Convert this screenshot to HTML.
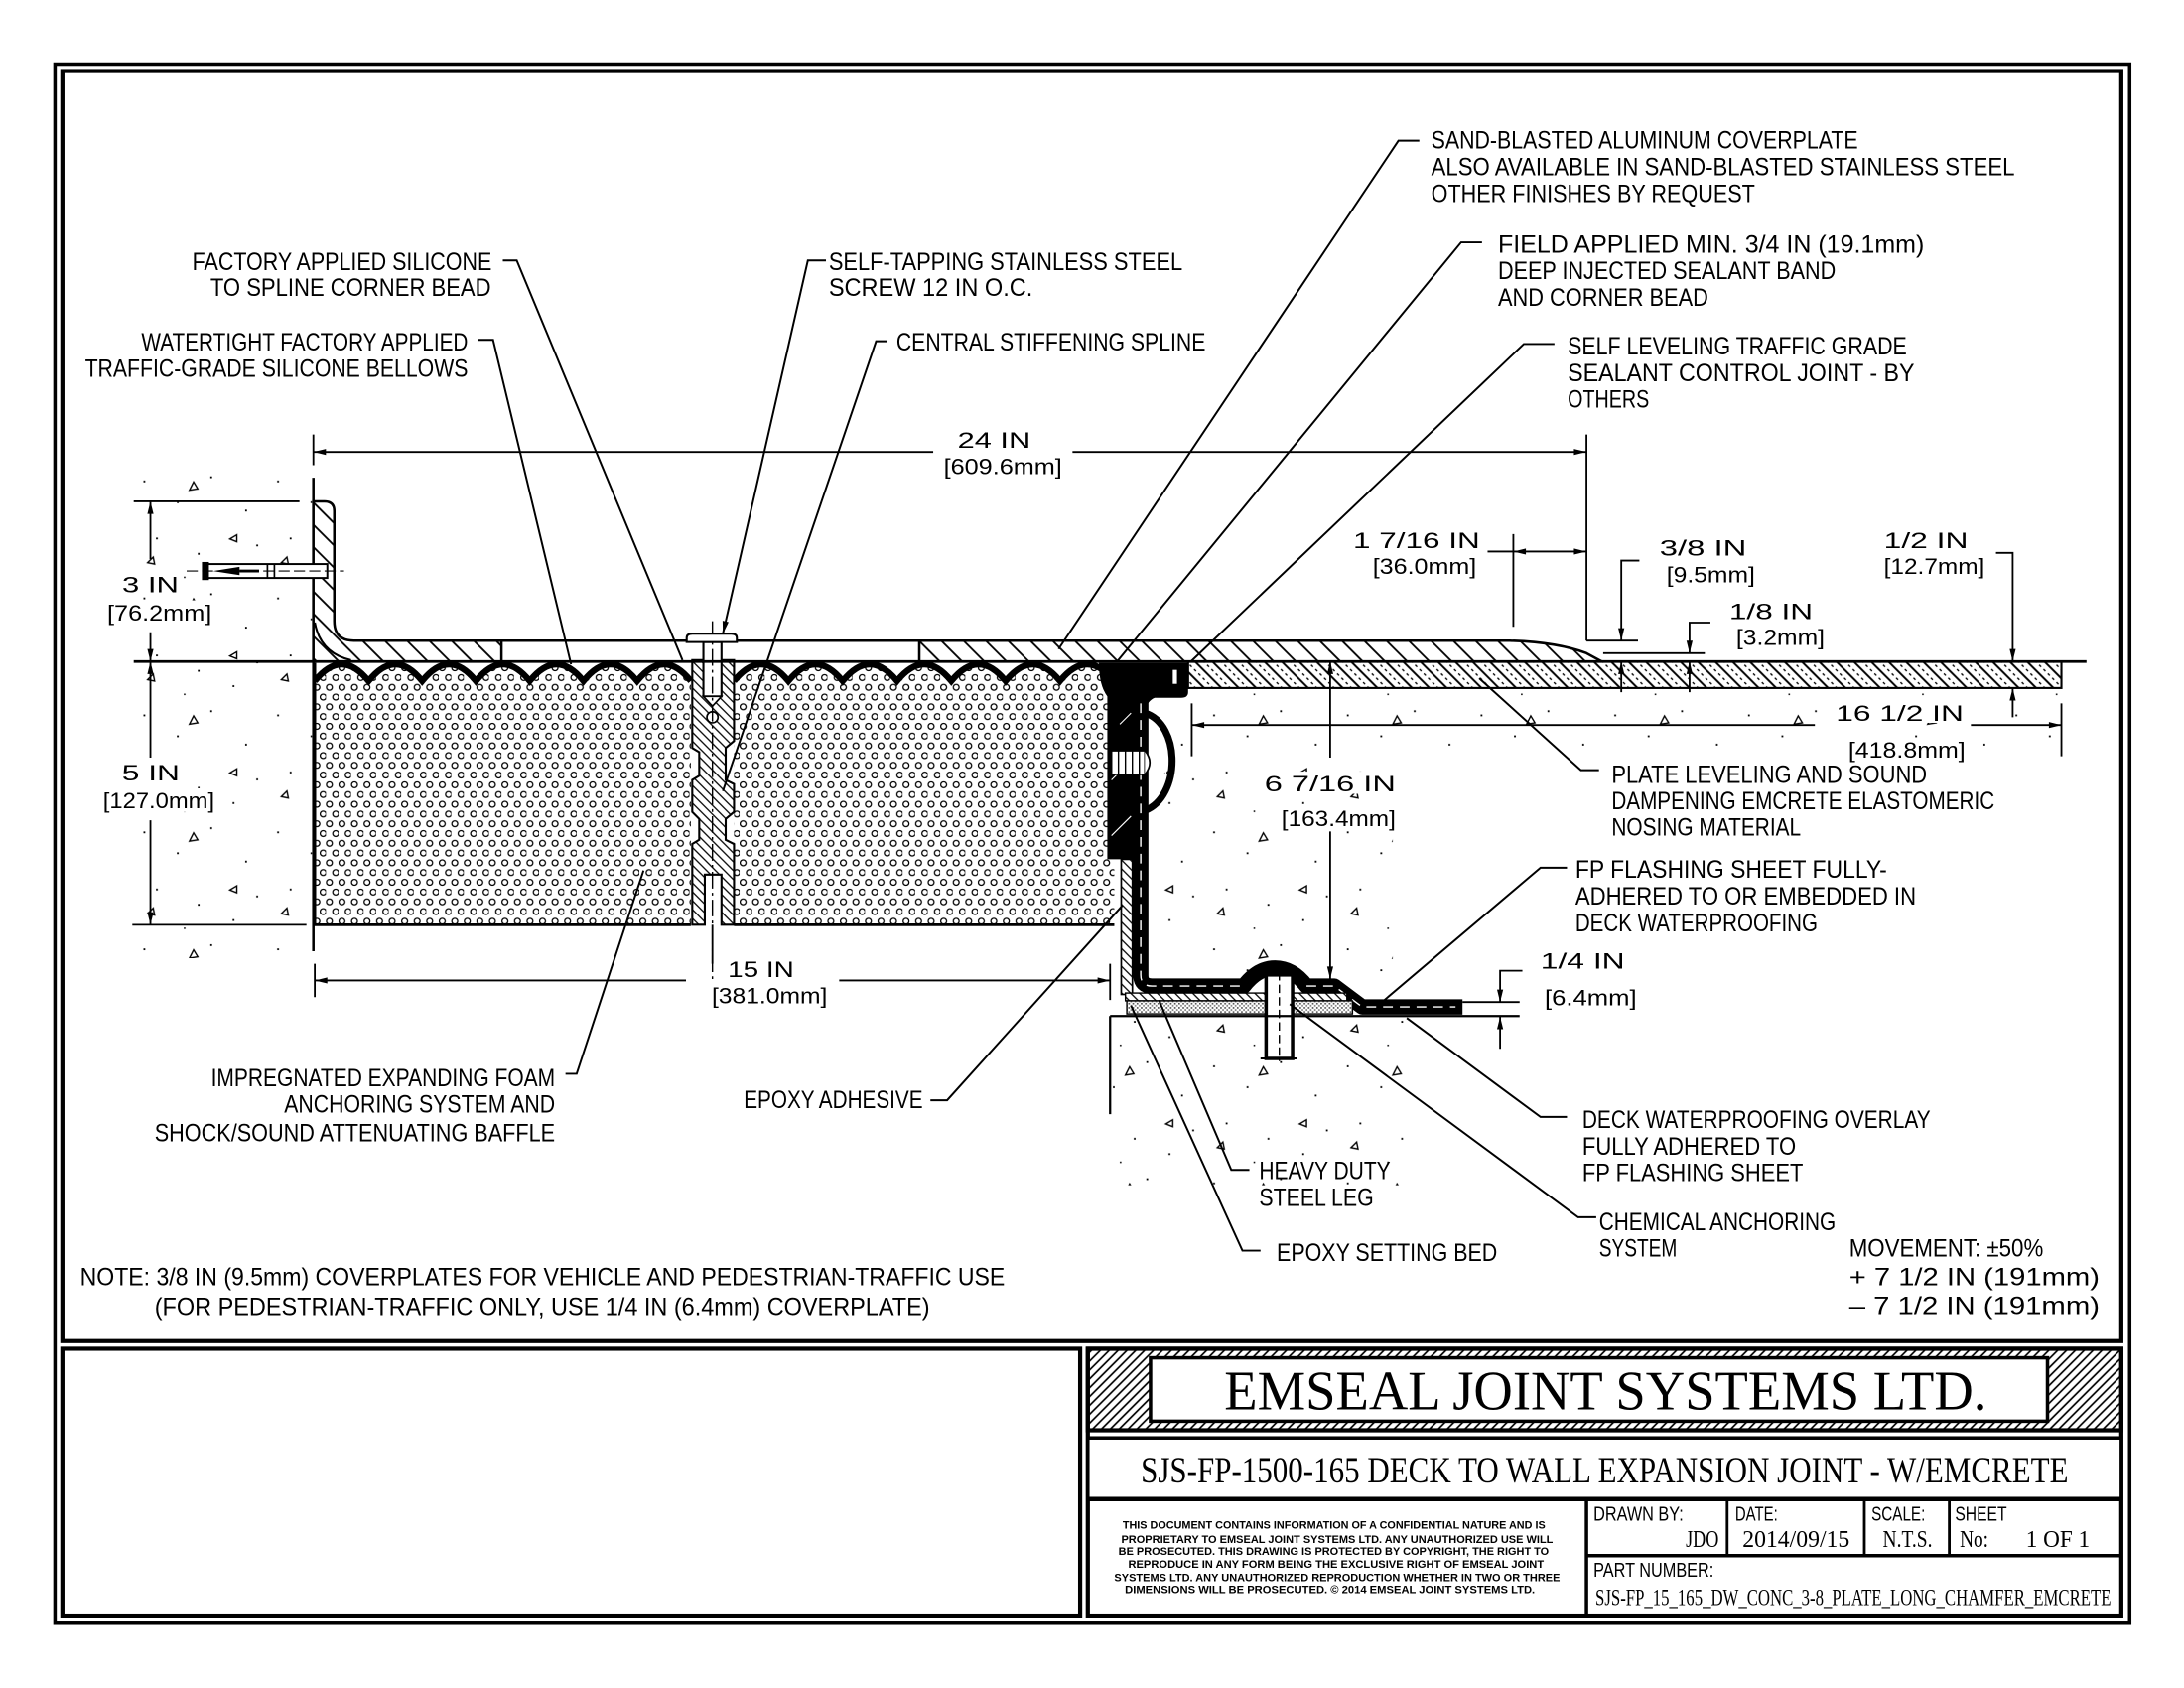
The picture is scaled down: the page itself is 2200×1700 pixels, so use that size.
<!DOCTYPE html>
<html><head><meta charset="utf-8">
<style>
html,body{margin:0;padding:0;background:#fff;}
svg{display:block;}
text{font-family:"Liberation Sans",sans-serif;fill:#000;}
.l{font-size:17.5px;}
.d{font-size:16px;}
.sf{font-family:"Liberation Serif",serif;}
.tb{font-size:14.5px;}
.dis{font-size:7.8px;font-weight:bold;}
</style></head><body>
<svg xmlns="http://www.w3.org/2000/svg" width="2200" height="1700" viewBox="0 0 1568 1212" preserveAspectRatio="none">
<defs>
<pattern id="h1" patternUnits="userSpaceOnUse" width="11.3" height="11.3" patternTransform="rotate(45)">
<line x1="0" y1="5.65" x2="11.3" y2="5.65" stroke="#000" stroke-width="1.3"/>
</pattern>
<pattern id="h2" patternUnits="userSpaceOnUse" width="4.5" height="4.5" patternTransform="rotate(45)">
<line x1="0" y1="2.25" x2="4.5" y2="2.25" stroke="#000" stroke-width="0.9"/>
</pattern>
<pattern id="hn" patternUnits="userSpaceOnUse" width="8.8" height="8.8" patternTransform="rotate(45)">
<line x1="0" y1="2" x2="8.8" y2="2" stroke="#000" stroke-width="1.4"/>
<line x1="0" y1="6.4" x2="8.8" y2="6.4" stroke="#000" stroke-width="1" stroke-dasharray="2 2.4"/>
</pattern>
<pattern id="ht" patternUnits="userSpaceOnUse" width="4.5" height="4.5" patternTransform="rotate(-45)">
<line x1="0" y1="2.25" x2="4.5" y2="2.25" stroke="#000" stroke-width="1.2"/>
</pattern>
<pattern id="foam" patternUnits="userSpaceOnUse" width="9" height="14">
<circle cx="2.5" cy="3.5" r="2.1" fill="none" stroke="#000" stroke-width="0.9"/>
<circle cx="7" cy="10.5" r="2.1" fill="none" stroke="#000" stroke-width="0.9"/>
</pattern>
<pattern id="ep" patternUnits="userSpaceOnUse" width="3" height="3">
<rect width="3" height="3" fill="#fff"/>
<rect x="0" y="0" width="1.2" height="1.2" fill="#555"/>
<rect x="1.5" y="1.5" width="1.2" height="1.2" fill="#777"/>
</pattern>
<pattern id="conc" patternUnits="userSpaceOnUse" width="96" height="84">
<g fill="#000">
<rect x="7" y="9" width="1.3" height="1.3"/><rect x="31" y="24" width="1.3" height="1.3"/>
<rect x="55" y="6" width="1.3" height="1.3"/><rect x="80" y="30" width="1.3" height="1.3"/>
<rect x="16" y="50" width="1.3" height="1.3"/><rect x="46" y="61" width="1.3" height="1.3"/>
<rect x="71" y="72" width="1.3" height="1.3"/><rect x="88" y="55" width="1.3" height="1.3"/>
<rect x="36" y="78" width="1.1" height="1.1"/>
</g>
<g fill="none" stroke="#000" stroke-width="1">
<path d="M40,16 l6,-1 l-3,-5 z"/>
<path d="M10,68 l4,-4 l1,5 z"/>
<path d="M74,48 l-5,3 l5,2 z"/>
</g>
</pattern>
</defs>

<!-- borders -->
<rect x="39.5" y="46" width="1489.5" height="1119.5" fill="none" stroke="#000" stroke-width="2.5"/>
<rect x="44.8" y="51" width="1478.2" height="912" fill="none" stroke="#000" stroke-width="3"/>
<rect x="44.8" y="968.5" width="730.7" height="191.5" fill="none" stroke="#000" stroke-width="3"/>
<rect x="781" y="968.5" width="742" height="191.5" fill="none" stroke="#000" stroke-width="3"/>

<!-- title block -->
<rect x="781" y="968.5" width="742" height="58.5" fill="url(#ht)" stroke="#000" stroke-width="3"/>
<rect x="826" y="975" width="644" height="45.5" fill="#fff" stroke="#000" stroke-width="2.5"/>
<text class="sf" x="879" y="1012" font-size="40" textLength="547.5" lengthAdjust="spacingAndGlyphs">EMSEAL JOINT SYSTEMS LTD.</text>
<rect x="781" y="1032.5" width="742" height="43.5" fill="#fff" stroke="#000" stroke-width="2.5"/>
<text class="sf" x="819" y="1064.4" font-size="26" textLength="666" lengthAdjust="spacingAndGlyphs">SJS-FP-1500-165 DECK TO WALL EXPANSION JOINT - W/EMCRETE</text>
<line x1="781" y1="1076.5" x2="1523" y2="1076.5" stroke="#000" stroke-width="3"/>
<line x1="1139" y1="1076" x2="1139" y2="1160" stroke="#000" stroke-width="2.5"/>
<line x1="1139" y1="1117" x2="1523" y2="1117" stroke="#000" stroke-width="2.5"/>
<line x1="1240" y1="1076" x2="1240" y2="1117" stroke="#000" stroke-width="2"/>
<line x1="1338.5" y1="1076" x2="1338.5" y2="1117" stroke="#000" stroke-width="2"/>
<line x1="1399.5" y1="1076" x2="1399.5" y2="1117" stroke="#000" stroke-width="2"/>

<text class="dis" x="806" y="1097.6" textLength="303.5" lengthAdjust="spacingAndGlyphs">THIS DOCUMENT CONTAINS INFORMATION OF A CONFIDENTIAL NATURE AND IS</text>
<text class="dis" x="805" y="1107.8" textLength="310" lengthAdjust="spacingAndGlyphs">PROPRIETARY TO EMSEAL JOINT SYSTEMS LTD. ANY UNAUTHORIZED USE WILL</text>
<text class="dis" x="803" y="1116.6" textLength="309" lengthAdjust="spacingAndGlyphs">BE PROSECUTED. THIS DRAWING IS PROTECTED BY COPYRIGHT, THE RIGHT TO</text>
<text class="dis" x="810" y="1125.6" textLength="298.4" lengthAdjust="spacingAndGlyphs">REPRODUCE IN ANY FORM BEING THE EXCLUSIVE RIGHT OF EMSEAL JOINT</text>
<text class="dis" x="800" y="1135.2" textLength="320" lengthAdjust="spacingAndGlyphs">SYSTEMS LTD. ANY UNAUTHORIZED REPRODUCTION WHETHER IN TWO OR THREE</text>
<text class="dis" x="807.6" y="1144" textLength="294.4" lengthAdjust="spacingAndGlyphs">DIMENSIONS WILL BE PROSECUTED. © 2014 EMSEAL JOINT SYSTEMS LTD.</text>

<text class="tb" x="1144" y="1091.7" textLength="64.6" lengthAdjust="spacingAndGlyphs">DRAWN BY:</text>
<text class="sf" x="1210.3" y="1110.7" font-size="17.5" textLength="23.7" lengthAdjust="spacingAndGlyphs">JDO</text>
<text class="tb" x="1245.8" y="1091.7" textLength="30.5" lengthAdjust="spacingAndGlyphs">DATE:</text>
<text class="sf" x="1251" y="1110.7" font-size="17.5" textLength="77" lengthAdjust="spacingAndGlyphs">2014/09/15</text>
<text class="tb" x="1343.6" y="1091.7" textLength="38.6" lengthAdjust="spacingAndGlyphs">SCALE:</text>
<text class="sf" x="1351.7" y="1110.7" font-size="17.5" textLength="35.6" lengthAdjust="spacingAndGlyphs">N.T.S.</text>
<text class="tb" x="1403.6" y="1091.7" textLength="37.2" lengthAdjust="spacingAndGlyphs">SHEET</text>
<text class="sf" x="1407" y="1110.7" font-size="17.5" textLength="20.6" lengthAdjust="spacingAndGlyphs">No:</text>
<text class="sf" x="1454.5" y="1110.7" font-size="17.5" textLength="45.9" lengthAdjust="spacingAndGlyphs">1 OF 1</text>
<text class="tb" x="1144" y="1132" textLength="86.4" lengthAdjust="spacingAndGlyphs">PART NUMBER:</text>
<text class="sf" x="1145.4" y="1152.3" font-size="16.5" textLength="370.2" lengthAdjust="spacingAndGlyphs">SJS-FP_15_165_DW_CONC_3-8_PLATE_LONG_CHAMFER_EMCRETE</text>

<!-- concrete -->
<rect x="97" y="336" width="127" height="352" fill="url(#conc)"/>
<rect x="826" y="495" width="654" height="52" fill="url(#conc)"/>
<rect x="826" y="547" width="174" height="153" fill="url(#conc)"/>
<rect x="799" y="731" width="212" height="120" fill="url(#conc)"/>

<!-- foam -->
<rect x="226" y="476" width="270" height="188" fill="#fff"/>
<rect x="226" y="476" width="270" height="188" fill="url(#foam)"/>
<rect x="527" y="476" width="273" height="188" fill="#fff"/>
<rect x="527" y="476" width="273" height="188" fill="url(#foam)"/>
<path d="M226,475 L226,489 Q245.3,465 264.6,489 Q283.9,465 303.1,489 Q322.4,465 341.7,489 Q361,465 380.3,489 Q399.6,465 418.9,489 Q438.1,465 457.4,489 Q476.7,465 496,489 L496,475 Z" fill="#fff"/>
<path d="M226,489 Q245.3,465 264.6,489 Q283.9,465 303.1,489 Q322.4,465 341.7,489 Q361,465 380.3,489 Q399.6,465 418.9,489 Q438.1,465 457.4,489 Q476.7,465 496,489" fill="none" stroke="#000" stroke-width="4.5"/>
<path d="M527,475 L527,489 Q546.5,465 566,489 Q585.5,465 605,489 Q624.5,465 644,489 Q663.5,465 683,489 Q702.5,465 722,489 Q741.5,465 761,489 Q780.5,465 800,489 L800,475 Z" fill="#fff"/>
<path d="M527,489 Q546.5,465 566,489 Q585.5,465 605,489 Q624.5,465 644,489 Q663.5,465 683,489 Q702.5,465 722,489 Q741.5,465 761,489 Q780.5,465 800,489" fill="none" stroke="#000" stroke-width="4.5"/>
<path d="M226,476 L226,664 L496,664 M527,664 L800,664" fill="none" stroke="#000" stroke-width="2"/>

<!-- spline -->
<polygon points="497,474 527,474 527,532 521,537 521,560 527,563 527,583 521,588 521,603 527,606 527,664 518,664 518,628 506,628 506,664 497,664 497,606 502,603 502,588 497,583 497,560 502,557 502,540 497,537" fill="#fff"/>
<polygon points="497,474 527,474 527,532 521,537 521,560 527,563 527,583 521,588 521,603 527,606 527,664 518,664 518,628 506,628 506,664 497,664 497,606 502,603 502,588 497,583 497,560 502,557 502,540 497,537" fill="url(#h2)" stroke="#000" stroke-width="1.5"/>
<!-- screw -->
<rect x="505" y="461" width="13" height="39" fill="#fff" stroke="#000" stroke-width="1.5"/>
<polygon points="505,500 511.5,507 518,500" fill="#fff" stroke="#000" stroke-width="1.2"/>
<circle cx="511.5" cy="515" r="4" fill="#fff" stroke="#000" stroke-width="1.2"/>
<line x1="511.5" y1="446" x2="511.5" y2="706" stroke="#000" stroke-width="1" stroke-dasharray="12 3 2 3"/>

<!-- left wall line -->
<line x1="225" y1="343" x2="225" y2="683" stroke="#000" stroke-width="1.8"/>
<!-- angle + plate left -->
<path d="M225,360 L233,360 Q240,360 240,367 L240,446 Q240,460 254,460 L360,460 L360,475 L225,475 Z" fill="#fff"/>
<path d="M225,360 L233,360 Q240,360 240,367 L240,446 Q240,460 254,460 L360,460 L360,475 L225,475 Z" fill="url(#h1)" stroke="#000" stroke-width="1.8"/>
<path d="M226,447 Q230,469 252,474" fill="none" stroke="#000" stroke-width="1.5"/>
<line x1="360" y1="460" x2="660" y2="460" stroke="#000" stroke-width="1.8"/>
<path d="M660,460 L1084,460 Q1118,461 1139,469 L1150,475 L660,475 Z" fill="#fff"/>
<path d="M660,460 L1084,460 Q1118,461 1139,469 L1150,475 L660,475 Z" fill="url(#h1)" stroke="#000" stroke-width="1.8"/>
<!-- screw head over plate -->
<path d="M493,461 L493,458 Q493,455 497,455 L525,455 Q529,455 529,458 L529,461 Z" fill="#fff" stroke="#000" stroke-width="1.5"/>

<!-- left anchor -->
<rect x="146" y="405" width="89" height="10" fill="#fff" stroke="#000" stroke-width="1.4"/>
<rect x="145" y="403.5" width="5" height="13" fill="#000"/>
<polygon points="153,410 172,407 172,413" fill="#000"/>
<line x1="172" y1="410" x2="186" y2="410" stroke="#000" stroke-width="2"/>
<line x1="192" y1="405" x2="192" y2="415" stroke="#000" stroke-width="1.2"/>
<line x1="197" y1="405" x2="197" y2="415" stroke="#000" stroke-width="1.2"/>
<line x1="134" y1="410" x2="247" y2="410" stroke="#000" stroke-width="0.8" stroke-dasharray="8 3"/>

<!-- nosing -->
<rect x="853" y="475" width="627" height="19" fill="#fff"/>
<rect x="853" y="475" width="627" height="19" fill="url(#hn)" stroke="#000" stroke-width="1.5"/>

<!-- deck line -->
<line x1="96" y1="475" x2="1498" y2="475" stroke="#000" stroke-width="2"/>

<!-- black sealant block -->
<path d="M789,476 L853,476 L853,497 Q853,501 848,501 L829,501 Q824,503 822,510 L816,510 L816,617 L795,617 L795,500 Q789,492 789,476 Z" fill="#000"/>
<line x1="804" y1="520" x2="812" y2="512" stroke="#fff" stroke-width="0.8"/>
<line x1="798" y1="560" x2="812" y2="546" stroke="#fff" stroke-width="0.8"/>
<line x1="798" y1="600" x2="812" y2="586" stroke="#fff" stroke-width="0.8"/>
<rect x="842" y="481" width="3" height="10" fill="#fff"/>
<!-- steel leg lower -->
<rect x="805" y="617" width="8" height="97" fill="#fff"/>
<rect x="805" y="617" width="8" height="97" fill="url(#h2)" stroke="#000" stroke-width="1.2"/>
<!-- flashing -->
<path d="M819,497 L819,700 Q819,708 827,708 L893,708 Q903,695 915.5,695 Q928,695 938,708 L958,708 L978,723 L1050,723" fill="none" stroke="#000" stroke-width="11" stroke-linejoin="round"/>
<path d="M819,505 L819,700 Q819,708 827,708 L893,708 M938,708 L958,708 L978,723 L1045,723" fill="none" stroke="#fff" stroke-width="1" stroke-dasharray="7 5"/>
<path d="M822,512 C848,520 848,572 822,582" fill="none" stroke="#000" stroke-width="5"/>
<path d="M825,518 C842,526 842,566 825,576" fill="none" stroke="#fff" stroke-width="1"/>
<rect x="798" y="539" width="24" height="17" fill="#fff" stroke="#000" stroke-width="1.2"/>
<line x1="803" y1="539" x2="803" y2="556" stroke="#000" stroke-width="1"/>
<line x1="808" y1="539" x2="808" y2="556" stroke="#000" stroke-width="1"/>
<line x1="813" y1="539" x2="813" y2="556" stroke="#000" stroke-width="1"/>
<line x1="818" y1="539" x2="818" y2="556" stroke="#000" stroke-width="1"/>
<path d="M822,539 Q829,547.5 822,556" fill="#fff" stroke="#000" stroke-width="1.2"/>
<!-- flange & epoxy bed -->
<rect x="808" y="713" width="159" height="5.6" fill="#fff"/>
<rect x="808" y="713" width="159" height="5.6" fill="url(#h2)" stroke="#000" stroke-width="1"/>
<rect x="809" y="718.6" width="162" height="9.4" fill="url(#ep)" stroke="#000" stroke-width="1"/>
<!-- anchor bolt -->
<rect x="909" y="700" width="19" height="60" fill="#fff" stroke="#000" stroke-width="2.5"/>
<line x1="918.5" y1="698" x2="918.5" y2="762" stroke="#000" stroke-width="1" stroke-dasharray="6 3"/>
<line x1="905" y1="760" x2="931" y2="760" stroke="#000" stroke-width="1.5"/>
<!-- lower concrete -->
<line x1="797" y1="729.5" x2="1091" y2="729.5" stroke="#000" stroke-width="1.6"/>
<line x1="797" y1="729.5" x2="797" y2="800" stroke="#000" stroke-width="1.6"/>
<line x1="1050" y1="719.5" x2="1091" y2="719.5" stroke="#000" stroke-width="1.4"/>

<!-- dimension & extension lines -->
<g stroke="#000" stroke-width="1.3" fill="none">
<path d="M225,324.5 L670,324.5 M770,324.5 L1139,324.5"/>
<path d="M225,312 L225,334 M1139,312 L1139,460"/>
<path d="M96,360 L215,360 M95,664 L220,664"/>
<path d="M108,360 L108,401.5 M108,454 L108,544 M108,589 L108,664"/>
<path d="M226,704 L492.5,704 M602.5,704 L797,704 M226,692 L226,716 M797,692 L797,718"/>
<path d="M855.6,520.6 L1303,520.6 M1415,520.6 L1480,520.6 M855.6,505 L855.6,543 M1480,505 L1480,543"/>
<path d="M955,475 L955,544 M955,597 L955,703"/>
<path d="M1086.5,383.5 L1086.5,450 M1068,396 L1139,396"/>
<path d="M1177,402.5 L1164,402.5 L1164,460 M1139,460 L1176,460 M1164,475 L1164,497"/>
<path d="M1228,447 L1213,447 L1213,469 M1151,469 L1224,469 M1213,475 L1213,497"/>
<path d="M1433,397 L1445,397 L1445,475 M1445,494 L1445,515"/>
<path d="M1093,697 L1077,697 L1077,719.5 M1077,730 L1077,753"/>
<path d="M511.5,664 L511.5,692"/>
</g>
<!-- arrowheads -->
<g fill="#000">
<polygon points="225,324.5 234,322.3 234,326.7"/>
<polygon points="1139,324.5 1130,322.3 1130,326.7"/>
<polygon points="108,360 105.8,369 110.2,369"/>
<polygon points="108,475 105.8,466 110.2,466"/>
<polygon points="108,475 105.8,484 110.2,484"/>
<polygon points="108,664 105.8,655 110.2,655"/>
<polygon points="226,704 235,701.8 235,706.2"/>
<polygon points="797,704 788,701.8 788,706.2"/>
<polygon points="855.6,520.6 864.6,518.4 864.6,522.8"/>
<polygon points="1480,520.6 1471,518.4 1471,522.8"/>
<polygon points="955,475 952.8,484 957.2,484"/>
<polygon points="955,703 952.8,694 957.2,694"/>
<polygon points="1086.5,396 1095.5,393.8 1095.5,398.2"/>
<polygon points="1139,396 1130,393.8 1130,398.2"/>
<polygon points="1164,460 1161.8,451 1166.2,451"/>
<polygon points="1164,475 1161.8,484 1166.2,484"/>
<polygon points="1213,469 1210.8,460 1215.2,460"/>
<polygon points="1213,475 1210.8,484 1215.2,484"/>
<polygon points="1445,475 1442.8,466 1447.2,466"/>
<polygon points="1445,494 1442.8,503 1447.2,503"/>
<polygon points="1077,719.5 1074.8,710.5 1079.2,710.5"/>
<polygon points="1077,730 1074.8,739 1079.2,739"/>
<polygon points="519,455 523.1,446.7 518.8,445.7"/>
</g>

<!-- leaders -->
<g stroke="#000" stroke-width="1.4" fill="none">
<polyline points="361,187 371,187 490,474"/>
<polyline points="343,244 354,244 410,477"/>
<polyline points="593,187 580,187 519,455"/>
<polyline points="637,245 629,245 519,568"/>
<polyline points="1019,101 1004,101 760,466"/>
<polyline points="1064,174 1049,174 802,475"/>
<polyline points="1116,247 1094,247 855,475"/>
<polyline points="406,771 414,771 462,625"/>
<polyline points="668,790 680,790 806,650"/>
<polyline points="897,840 884,840 832,718"/>
<polyline points="905,898 892,898 812,722"/>
<polyline points="1148,553 1135,553 1062,487"/>
<polyline points="1125,623 1106,623 994,718"/>
<polyline points="1125,802 1106,802 1010,731"/>
<polyline points="1146,874 1133,874 926,721"/>
</g>

<!-- labels -->
<g class="l">
<text x="138" y="194" textLength="215" lengthAdjust="spacingAndGlyphs">FACTORY APPLIED SILICONE</text>
<text x="151" y="212.5" textLength="201.5" lengthAdjust="spacingAndGlyphs">TO SPLINE CORNER BEAD</text>
<text x="101.5" y="251.5" textLength="234.5" lengthAdjust="spacingAndGlyphs">WATERTIGHT FACTORY APPLIED</text>
<text x="61" y="270.5" textLength="275" lengthAdjust="spacingAndGlyphs">TRAFFIC-GRADE SILICONE BELLOWS</text>
<text x="595" y="194" textLength="254" lengthAdjust="spacingAndGlyphs">SELF-TAPPING STAINLESS STEEL</text>
<text x="595" y="212.5" textLength="146.5" lengthAdjust="spacingAndGlyphs">SCREW 12 IN O.C.</text>
<text x="643.5" y="251.5" textLength="222" lengthAdjust="spacingAndGlyphs">CENTRAL STIFFENING SPLINE</text>
<text x="1027.5" y="106.6" textLength="306.5" lengthAdjust="spacingAndGlyphs">SAND-BLASTED ALUMINUM COVERPLATE</text>
<text x="1027.5" y="125.7" textLength="419" lengthAdjust="spacingAndGlyphs">ALSO AVAILABLE IN SAND-BLASTED STAINLESS STEEL</text>
<text x="1027.5" y="145" textLength="232.5" lengthAdjust="spacingAndGlyphs">OTHER FINISHES BY REQUEST</text>
<text x="1075.5" y="181.4" textLength="306" lengthAdjust="spacingAndGlyphs">FIELD APPLIED MIN. 3/4 IN (19.1mm)</text>
<text x="1075.5" y="200.4" textLength="242.5" lengthAdjust="spacingAndGlyphs">DEEP INJECTED SEALANT BAND</text>
<text x="1075.5" y="219.6" textLength="151" lengthAdjust="spacingAndGlyphs">AND CORNER BEAD</text>
<text x="1125.5" y="254.6" textLength="243.5" lengthAdjust="spacingAndGlyphs">SELF LEVELING TRAFFIC GRADE</text>
<text x="1125.5" y="273.7" textLength="249" lengthAdjust="spacingAndGlyphs">SEALANT CONTROL JOINT - BY</text>
<text x="1125.5" y="292.7" textLength="58.5" lengthAdjust="spacingAndGlyphs">OTHERS</text>
<text x="1157" y="562" textLength="226.5" lengthAdjust="spacingAndGlyphs">PLATE LEVELING AND SOUND</text>
<text x="1157" y="581" textLength="275" lengthAdjust="spacingAndGlyphs">DAMPENING EMCRETE ELASTOMERIC</text>
<text x="1157" y="600" textLength="136" lengthAdjust="spacingAndGlyphs">NOSING MATERIAL</text>
<text x="1131" y="630.4" textLength="223.7" lengthAdjust="spacingAndGlyphs">FP FLASHING SHEET FULLY-</text>
<text x="1131" y="649.4" textLength="244.6" lengthAdjust="spacingAndGlyphs">ADHERED TO OR EMBEDDED IN</text>
<text x="1131" y="668.6" textLength="174" lengthAdjust="spacingAndGlyphs">DECK WATERPROOFING</text>
<text x="1136" y="810" textLength="250" lengthAdjust="spacingAndGlyphs">DECK WATERPROOFING OVERLAY</text>
<text x="1136" y="829" textLength="153.4" lengthAdjust="spacingAndGlyphs">FULLY ADHERED TO</text>
<text x="1136" y="848.2" textLength="158.6" lengthAdjust="spacingAndGlyphs">FP FLASHING SHEET</text>
<text x="1148" y="883.3" textLength="170" lengthAdjust="spacingAndGlyphs">CHEMICAL ANCHORING</text>
<text x="1148" y="902.4" textLength="56" lengthAdjust="spacingAndGlyphs">SYSTEM</text>
<text x="904" y="846.7" textLength="94.3" lengthAdjust="spacingAndGlyphs">HEAVY DUTY</text>
<text x="904" y="865.8" textLength="82.2" lengthAdjust="spacingAndGlyphs">STEEL LEG</text>
<text x="916.6" y="905.5" textLength="158.4" lengthAdjust="spacingAndGlyphs">EPOXY SETTING BED</text>
<text x="1327.6" y="902.4" textLength="139.4" lengthAdjust="spacingAndGlyphs">MOVEMENT: ±50%</text>
<text x="1327.6" y="923" textLength="179.8" lengthAdjust="spacingAndGlyphs">+ 7 1/2 IN (191mm)</text>
<text x="1327.6" y="943.7" textLength="179.8" lengthAdjust="spacingAndGlyphs">– 7 1/2 IN (191mm)</text>
<text x="151.5" y="780" textLength="247" lengthAdjust="spacingAndGlyphs">IMPREGNATED EXPANDING FOAM</text>
<text x="204" y="799" textLength="194.5" lengthAdjust="spacingAndGlyphs">ANCHORING SYSTEM AND</text>
<text x="111" y="819.7" textLength="287.5" lengthAdjust="spacingAndGlyphs">SHOCK/SOUND ATTENUATING BAFFLE</text>
<text x="534" y="795.8" textLength="128.5" lengthAdjust="spacingAndGlyphs">EPOXY ADHESIVE</text>
<text x="57.5" y="923" textLength="664" lengthAdjust="spacingAndGlyphs">NOTE: 3/8 IN (9.5mm) COVERPLATES FOR VEHICLE AND PEDESTRIAN-TRAFFIC USE</text>
<text x="111" y="944.4" textLength="556.5" lengthAdjust="spacingAndGlyphs">(FOR PEDESTRIAN-TRAFFIC ONLY, USE 1/4 IN (6.4mm) COVERPLATE)</text>
</g>

<!-- white backing for dimension text inside concrete -->
<g fill="#fff">
<rect x="86" y="411" width="44" height="16"/>
<rect x="76" y="431" width="78" height="17"/>
<rect x="86" y="546" width="45" height="16"/>
<rect x="73" y="566" width="83" height="17"/>
<rect x="906" y="554" width="98" height="16"/>
<rect x="918" y="579" width="86" height="17"/>
<rect x="1316" y="503" width="96" height="16"/>
<rect x="1325" y="530" width="88" height="17"/>
</g>

<!-- dimension text -->
<g class="d">
<text x="687.5" y="321.4" textLength="52.5" lengthAdjust="spacingAndGlyphs">24 IN</text>
<text x="677.5" y="340.5" textLength="85" lengthAdjust="spacingAndGlyphs">[609.6mm]</text>
<text x="87.7" y="425.3" textLength="40.6" lengthAdjust="spacingAndGlyphs">3 IN</text>
<text x="77" y="445.5" textLength="75" lengthAdjust="spacingAndGlyphs">[76.2mm]</text>
<text x="87.5" y="560.3" textLength="41.5" lengthAdjust="spacingAndGlyphs">5 IN</text>
<text x="74" y="580.4" textLength="80" lengthAdjust="spacingAndGlyphs">[127.0mm]</text>
<text x="522.5" y="701.4" textLength="47.5" lengthAdjust="spacingAndGlyphs">15 IN</text>
<text x="511" y="720.4" textLength="83" lengthAdjust="spacingAndGlyphs">[381.0mm]</text>
<text x="971.5" y="393.6" textLength="91" lengthAdjust="spacingAndGlyphs">1 7/16 IN</text>
<text x="985.5" y="412" textLength="74.5" lengthAdjust="spacingAndGlyphs">[36.0mm]</text>
<text x="1191.5" y="399" textLength="62.5" lengthAdjust="spacingAndGlyphs">3/8 IN</text>
<text x="1196.5" y="418" textLength="63.5" lengthAdjust="spacingAndGlyphs">[9.5mm]</text>
<text x="1352.5" y="393.6" textLength="60.5" lengthAdjust="spacingAndGlyphs">1/2 IN</text>
<text x="1352.5" y="412" textLength="72.5" lengthAdjust="spacingAndGlyphs">[12.7mm]</text>
<text x="1241.5" y="444.5" textLength="60" lengthAdjust="spacingAndGlyphs">1/8 IN</text>
<text x="1246.5" y="463" textLength="63.5" lengthAdjust="spacingAndGlyphs">[3.2mm]</text>
<text x="907.8" y="568.3" textLength="94.2" lengthAdjust="spacingAndGlyphs">6 7/16 IN</text>
<text x="920" y="593" textLength="82" lengthAdjust="spacingAndGlyphs">[163.4mm]</text>
<text x="1318" y="517.5" textLength="91.7" lengthAdjust="spacingAndGlyphs">16 1/2 IN</text>
<text x="1327" y="544" textLength="84" lengthAdjust="spacingAndGlyphs">[418.8mm]</text>
<text x="1106" y="695.6" textLength="60.5" lengthAdjust="spacingAndGlyphs">1/4 IN</text>
<text x="1109" y="722" textLength="66" lengthAdjust="spacingAndGlyphs">[6.4mm]</text>
</g>
</svg>
</body></html>
